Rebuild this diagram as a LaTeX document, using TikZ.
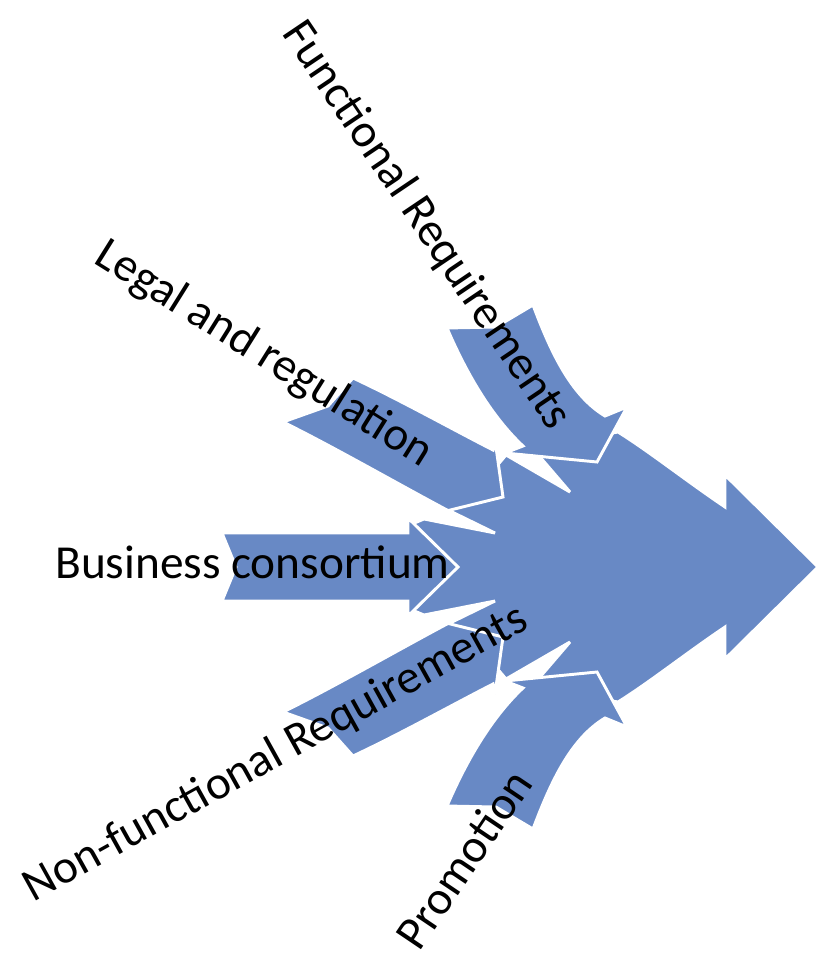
\documentclass[tikz,border=0pt]{standalone}
\usepackage{fontspec}
\setmainfont{Carlito}
\usetikzlibrary{positioning}
\definecolor{arrblue}{RGB}{104,137,197}
\tikzstyle{arr}=[fill=arrblue,draw=white,line width=2.2pt,line join=miter,miter limit=4]
\tikzstyle{lbl}=[font=\fontsize{35.5}{42}\selectfont,inner sep=0pt,anchor=base]

\begin{document}
\begin{tikzpicture}[x=0.75pt,y=-0.75pt]
\useasboundingbox (0,0) rectangle (818,960);
% the big arrow, notched where the others come in
\draw[arr] (818,567) -- (725,659) -- (725,627) .. controls (685,654) and (650,682) .. (618,702)
  -- (575,694) -- (540,677) -- (570,642) -- (506,679) -- (485,654) -- (450,623) -- (495,601)
  -- (424,615) -- (412,610) -- (440,567) -- (412,524) -- (424,519) -- (495,533) -- (450,511)
  -- (485,480) -- (506,455) -- (570,492) -- (540,457) -- (575,440) -- (618,432)
  .. controls (650,452) and (685,480) .. (725,507) -- (725,475) -- cycle;
% upper ones
\draw[arr] (353,378) .. controls (400,400) and (450,428) .. (493,450) -- (495,440) -- (503,497)
  -- (422,517) -- (447,510) .. controls (400,485) and (330,445) .. (283,422) -- (328,406) -- cycle;
\draw[arr] (447,328) .. controls (465,370) and (490,415) .. (523,446) -- (505,453) -- (597,462)
  -- (627,407) -- (605,416) .. controls (570,395) and (550,350) .. (533,305) -- (496,327) -- cycle;
\draw[arr] (222,533) -- (408,533) -- (408,518) -- (458,567) -- (408,616) -- (408,601)
  -- (222,601) -- (236,567) -- cycle;
% lower ones
\draw[arr] (353,756) .. controls (400,734) and (450,706) .. (493,684) -- (495,694) -- (503,637)
  -- (422,617) -- (447,624) .. controls (400,649) and (330,689) .. (283,712) -- (328,728) -- cycle;
\draw[arr] (447,806) .. controls (465,764) and (490,719) .. (523,688) -- (505,681) -- (597,672)
  -- (627,727) -- (605,718) .. controls (570,739) and (550,784) .. (533,829) -- (496,807) -- cycle;
% labels
\node[lbl,anchor=base west] (busin) at (55,578) {Business consortium};
\node[lbl,rotate=-32] (legal) at (257,365) {Legal and regulation};
\node[lbl,rotate=-56] (funct) at (416,233) {Functional Requirements};
\node[lbl,rotate=29] (nonfn) at (282,765) {Non-functional Requirements};
\node[lbl,rotate=56] (promo) at (477,868) {Promotion};
\end{tikzpicture}
\end{document}
